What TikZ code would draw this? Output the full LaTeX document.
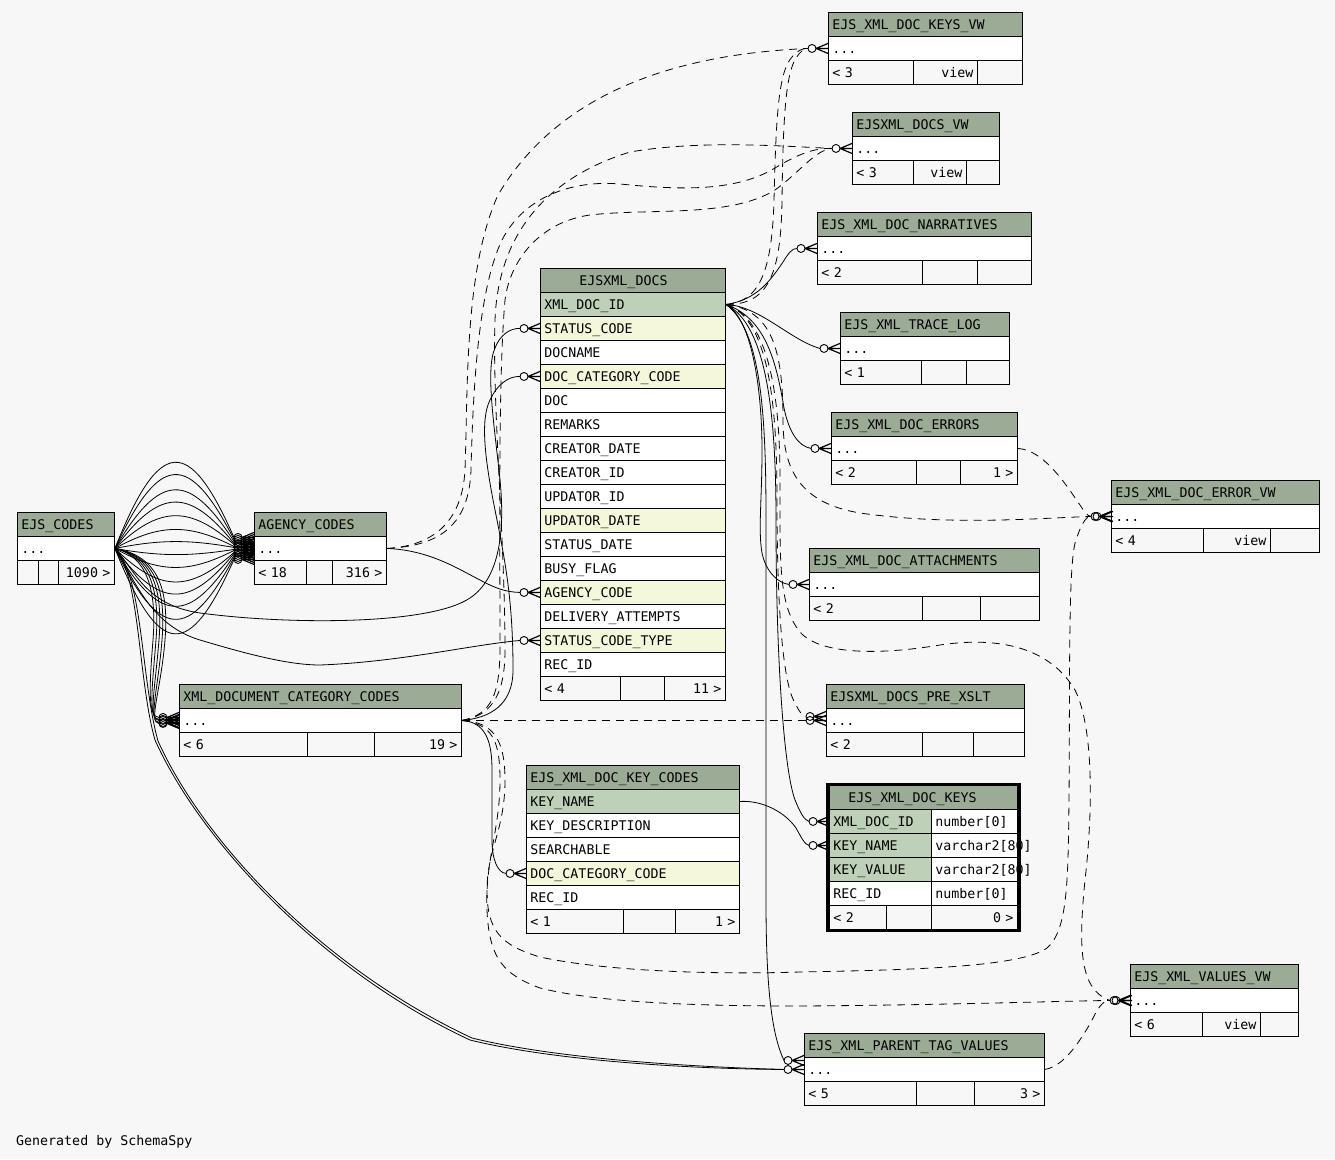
\documentclass[tikz,border=0pt]{standalone}
\usepackage{fontspec}
\newfontfamily\schemafont{DejaVu Sans Mono}
\usepackage{xcolor}
\definecolor{ssbg}{RGB}{247,247,247}
\definecolor{sshead}{RGB}{155,171,150}
\definecolor{sspk}{RGB}{190,209,184}
\definecolor{ssfk}{RGB}{244,247,218}
\usepackage{tikz}
\usetikzlibrary{calc}

\begin{document}
\begin{tikzpicture}[x=1pt, y=-1pt,
  cw/.code={\pgfmathsetlengthmacro\cwtw{#1-8pt}\tikzset{minimum width=#1, text width/.expanded=\cwtw}},
  cell/.style={draw=black, line width=0.9pt, anchor=north west, minimum height=24pt, inner xsep=4pt, inner ysep=0pt, text height=11pt, text depth=1.3pt, align=left, font=\schemafont\fontsize{13.3pt}{16pt}\selectfont},
  headcell/.style={cell, fill=sshead},
  pkcell/.style={cell, fill=sspk},
  fkcell/.style={cell, fill=ssfk},
  rowcell/.style={cell, fill=white},
  footcell/.style={cell, fill=ssbg},
  link/.style={line width=0.8pt},
  implied/.style={link, dash pattern=on 8pt off 6pt},
  fkend/.pic={\draw[line width=1.2pt] (-12,0) -- (0,-5) (-12,0) -- (0,0) (-12,0) -- (0,5); \draw[line width=0.9pt] (-16,0) circle (4pt);}
]
  % background
  \fill[ssbg] (0,0) rectangle (1335,1159);

  % --- collapsed tables on the right ---
  \node[headcell, cw=194pt] (kvw-h) at (828,12) {EJS\_XML\_DOC\_KEYS\_VW};
  \node[rowcell, cw=194pt] (kvw-d) at (828,36) {...};
  \node[footcell, cw=85pt] (kvw-f1) at (828,60) {< 3};
  \node[footcell, cw=64pt, align=right] (kvw-f2) at (913,60) {view};
  \node[footcell, cw=45pt] (kvw-f3) at (977,60) {};

  \node[headcell, cw=147pt] (dvw-h) at (852,112) {EJSXML\_DOCS\_VW};
  \node[rowcell, cw=147pt] (dvw-d) at (852,136) {...};
  \node[footcell, cw=61pt] (dvw-f1) at (852,160) {< 3};
  \node[footcell, cw=53pt, align=right] (dvw-f2) at (913,160) {view};
  \node[footcell, cw=33pt] (dvw-f3) at (966,160) {};

  \node[headcell, cw=214pt] (narr-h) at (817,212) {EJS\_XML\_DOC\_NARRATIVES};
  \node[rowcell, cw=214pt] (narr-d) at (817,236) {...};
  \node[footcell, cw=105pt] (narr-f1) at (817,260) {< 2};
  \node[footcell, cw=55pt] (narr-f2) at (922,260) {};
  \node[footcell, cw=54pt] (narr-f3) at (977,260) {};

  \node[headcell, cw=169pt] (trace-h) at (840,312) {EJS\_XML\_TRACE\_LOG};
  \node[rowcell, cw=169pt] (trace-d) at (840,336) {...};
  \node[footcell, cw=81pt] (trace-f1) at (840,360) {< 1};
  \node[footcell, cw=45pt] (trace-f2) at (921,360) {};
  \node[footcell, cw=43pt] (trace-f3) at (966,360) {};

  \node[headcell, cw=186pt] (err-h) at (831,412) {EJS\_XML\_DOC\_ERRORS};
  \node[rowcell, cw=186pt] (err-d) at (831,436) {...};
  \node[footcell, cw=85pt] (err-f1) at (831,460) {< 2};
  \node[footcell, cw=44pt] (err-f2) at (916,460) {};
  \node[footcell, cw=57pt, align=right] (err-f3) at (960,460) {1 >};

  \node[headcell, cw=208pt] (evw-h) at (1111,480) {EJS\_XML\_DOC\_ERROR\_VW};
  \node[rowcell, cw=208pt] (evw-d) at (1111,504) {...};
  \node[footcell, cw=92pt] (evw-f1) at (1111,528) {< 4};
  \node[footcell, cw=67pt, align=right] (evw-f2) at (1203,528) {view};
  \node[footcell, cw=49pt] (evw-f3) at (1270,528) {};

  \node[headcell, cw=230pt] (att-h) at (809,548) {EJS\_XML\_DOC\_ATTACHMENTS};
  \node[rowcell, cw=230pt] (att-d) at (809,572) {...};
  \node[footcell, cw=113pt] (att-f1) at (809,596) {< 2};
  \node[footcell, cw=58pt] (att-f2) at (922,596) {};
  \node[footcell, cw=59pt] (att-f3) at (980,596) {};

  \node[headcell, cw=198pt] (pre-h) at (826,684) {EJSXML\_DOCS\_PRE\_XSLT};
  \node[rowcell, cw=198pt] (pre-d) at (826,708) {...};
  \node[footcell, cw=96pt] (pre-f1) at (826,732) {< 2};
  \node[footcell, cw=51pt] (pre-f2) at (922,732) {};
  \node[footcell, cw=51pt] (pre-f3) at (973,732) {};

  \node[headcell, cw=168pt] (vvw-h) at (1130,964) {EJS\_XML\_VALUES\_VW};
  \node[rowcell, cw=168pt] (vvw-d) at (1130,988) {...};
  \node[footcell, cw=72pt] (vvw-f1) at (1130,1012) {< 6};
  \node[footcell, cw=58pt, align=right] (vvw-f2) at (1202,1012) {view};
  \node[footcell, cw=38pt] (vvw-f3) at (1260,1012) {};

  \node[headcell, cw=240pt] (ptv-h) at (804,1033) {EJS\_XML\_PARENT\_TAG\_VALUES};
  \node[rowcell, cw=240pt] (ptv-d) at (804,1057) {...};
  \node[footcell, cw=112pt] (ptv-f1) at (804,1081) {< 5};
  \node[footcell, cw=58pt] (ptv-f2) at (916,1081) {};
  \node[footcell, cw=70pt, align=right] (ptv-f3) at (974,1081) {3 >};

  % --- code tables on the left ---
  \node[headcell, cw=97pt] (codes-h) at (17,512) {EJS\_CODES};
  \node[rowcell, cw=97pt] (codes-d) at (17,536) {...};
  \node[footcell, cw=21pt] (codes-f1) at (17,560) {};
  \node[footcell, cw=20pt] (codes-f2) at (38,560) {};
  \node[footcell, cw=56pt, align=right] (codes-f3) at (58,560) {1090 >};

  \node[headcell, cw=132pt] (agency-h) at (254,512) {AGENCY\_CODES};
  \node[rowcell, cw=132pt] (agency-d) at (254,536) {...};
  \node[footcell, cw=52pt] (agency-f1) at (254,560) {< 18};
  \node[footcell, cw=26pt] (agency-f2) at (306,560) {};
  \node[footcell, cw=54pt, align=right] (agency-f3) at (332,560) {316 >};

  \node[headcell, cw=282pt] (cat-h) at (179,684) {XML\_DOCUMENT\_CATEGORY\_CODES};
  \node[rowcell, cw=282pt] (cat-d) at (179,708) {...};
  \node[footcell, cw=128pt] (cat-f1) at (179,732) {< 6};
  \node[footcell, cw=67pt] (cat-f2) at (307,732) {};
  \node[footcell, cw=87pt, align=right] (cat-f3) at (374,732) {19 >};

  % --- EJSXML_DOCS ---
  \node[headcell, cw=185pt] (docs-h) at (540,268) {\hspace*{35pt}EJSXML\_DOCS};
  \foreach \i/\sty/\txt in {0/pkcell/XML\_DOC\_ID, 1/fkcell/STATUS\_CODE, 2/rowcell/DOCNAME,
      3/fkcell/DOC\_CATEGORY\_CODE, 4/rowcell/DOC, 5/rowcell/REMARKS, 6/rowcell/CREATOR\_DATE,
      7/rowcell/CREATOR\_ID, 8/rowcell/UPDATOR\_ID, 9/fkcell/UPDATOR\_DATE, 10/rowcell/STATUS\_DATE,
      11/rowcell/BUSY\_FLAG, 12/fkcell/AGENCY\_CODE, 13/rowcell/DELIVERY\_ATTEMPTS,
      14/fkcell/STATUS\_CODE\_TYPE, 15/rowcell/REC\_ID}{
    \node[\sty, cw=185pt] (docs-\i) at (540,292+24*\i) {\txt};
  }
  \node[footcell, cw=80pt] (docs-f1) at (540,676) {< 4};
  \node[footcell, cw=44pt] (docs-f2) at (620,676) {};
  \node[footcell, cw=61pt, align=right] (docs-f3) at (664,676) {11 >};

  % --- EJS_XML_DOC_KEY_CODES ---
  \node[headcell, cw=213pt] (kc-h) at (526,765) {EJS\_XML\_DOC\_KEY\_CODES};
  \foreach \i/\sty/\txt in {0/pkcell/KEY\_NAME, 1/rowcell/KEY\_DESCRIPTION, 2/rowcell/SEARCHABLE,
      3/fkcell/DOC\_CATEGORY\_CODE, 4/rowcell/REC\_ID}{
    \node[\sty, cw=213pt] (kc-\i) at (526,789+24*\i) {\txt};
  }
  \node[footcell, cw=97pt] (kc-f1) at (526,909) {< 1};
  \node[footcell, cw=52pt] (kc-f2) at (623,909) {};
  \node[footcell, cw=64pt, align=right] (kc-f3) at (675,909) {1 >};

  % --- EJS_XML_DOC_KEYS (selected) ---
  \node[headcell, cw=188pt] (keys-h) at (829,785) {\hspace*{15pt}EJS\_XML\_DOC\_KEYS};
  \foreach \i/\sty/\txt/\typ in {0/pkcell/XML\_DOC\_ID/number[0], 1/pkcell/KEY\_NAME/varchar2[80],
      2/pkcell/KEY\_VALUE/varchar2[80], 3/rowcell/REC\_ID/number[0]}{
    \node[\sty, cw=102pt] (keys-\i) at (829,809+24*\i) {\txt};
    \node[rowcell, cw=86pt] (keys-t\i) at (931,809+24*\i) {\mbox{\typ}};
  }
  \node[footcell, cw=57pt] (keys-f1) at (829,905) {< 2};
  \node[footcell, cw=45pt] (keys-f2) at (886,905) {};
  \node[footcell, cw=86pt, align=right] (keys-f3) at (931,905) {0 >};
  \draw[line width=3.5pt] (827.5,784.5) rectangle (1019.5,930.5);

  % connector ends
  \coordinate (kvw-in) at ($(kvw-d.west)+(-20,0)$);
  \coordinate (dvw-in) at ($(dvw-d.west)+(-20,0)$);
  \coordinate (narr-in) at ($(narr-d.west)+(-20,0)$);
  \coordinate (trace-in) at ($(trace-d.west)+(-20,0)$);
  \coordinate (err-in) at ($(err-d.west)+(-20,0)$);
  \coordinate (evw-in) at ($(evw-d.west)+(-20,0)$);
  \coordinate (att-in) at ($(att-d.west)+(-20,0)$);
  \coordinate (pre-in) at ($(pre-d.west)+(-20,0)$);
  \coordinate (pre-in2) at ($(pre-d.west)+(-20,-4)$);
  \coordinate (vvw-in) at ($(vvw-d.west)+(-20,0)$);
  \coordinate (ptv-in) at ($(ptv-d.west)+(-20,0)$);
  \coordinate (ptv-in2) at ($(ptv-d.west)+(-20,-9)$);
  \coordinate (docs1-in) at ($(docs-1.west)+(-20,0)$);
  \coordinate (docs3-in) at ($(docs-3.west)+(-20,0)$);
  \coordinate (docs12-in) at ($(docs-12.west)+(-20,0)$);
  \coordinate (docs14-in) at ($(docs-14.west)+(-20,0)$);
  \coordinate (kc3-in) at ($(kc-3.west)+(-20,0)$);
  \coordinate (keys0-in) at ($(keys-0.west)+(-20,0)$);
  \coordinate (keys1-in) at ($(keys-1.west)+(-20,0)$);

  % EJS_CODES -> AGENCY_CODES
  \foreach \d/\e in {-113/-11,-97/-9,-77/-7,-61/-5,-43/-4,-25/-2,-9/-1,8/1,25/2,44/4,60/5,76/7,93/9,112/11}{
    \draw[link] (codes-d.east) .. controls ($(codes-d.east)+(45,\d)$) and ($(agency-d.west)+(-65,\d)$) .. ($(agency-d.west)+(-20,\e)$);
    \pic at ($(agency-d.west)+(0,\e)$) {fkend};
  }
  % EJS_CODES -> XML_DOCUMENT_CATEGORY_CODES
  \foreach \a/\e in {0/-3,3/-1,6/0,9/2,12/3}{
    \draw[link] (codes-d.east) .. controls (147+\a,556) and (157+\a,590) .. (153+\a,640) .. controls (149+\a,690) and (148,720+\e) .. ($(cat-d.west)+(-20,\e)$);
    \pic at ($(cat-d.west)+(0,\e)$) {fkend};
  }
  % EJS_CODES -> EJS_XML_PARENT_TAG_VALUES
  \draw[link] (codes-d.east) .. controls (140,575) and (138,680) .. (155,740) .. controls (200,840) and (320,970) .. (470,1040) .. controls (560,1062) and (700,1069) .. (ptv-in);
  \draw[link] (codes-d.east) .. controls (143,575) and (141,680) .. (158,741) .. controls (203,841) and (322,968) .. (472,1038) .. controls (562,1060) and (700,1067) .. (ptv-in);
  % EJS_CODES -> EJSXML_DOCS
  \draw[link] (codes-d.east) .. controls (135,570) and (145,605) .. (200,613) .. controls (290,625) and (430,625) .. (470,598) .. controls (500,578) and (505,530) .. (500,480) .. controls (495,430) and (485,370) .. (495,348) .. controls (500,335) and (510,328) .. (docs1-in);
  \draw[link] (codes-d.east) .. controls (135,580) and (150,625) .. (200,640) .. controls (250,655) and (290,665) .. (320,665) .. controls (400,662) and (470,645) .. (docs14-in);
  % AGENCY_CODES -> EJSXML_DOCS
  \draw[link] (agency-d.east) .. controls (430,550) and (460,570) .. (480,580) .. controls (495,588) and (505,592) .. (docs12-in);
  % XML_DOCUMENT_CATEGORY_CODES -> EJSXML_DOCS, EJS_XML_DOC_KEY_CODES
  \draw[link] (cat-d.east) .. controls (490,718) and (513,705) .. (513,670) .. controls (513,600) and (505,560) .. (495,510) .. controls (485,460) and (480,420) .. (490,400) .. controls (497,385) and (508,376) .. (docs3-in);
  \draw[link] (cat-d.east) .. controls (485,722) and (492,740) .. (492,770) -- (492,840) .. controls (492,860) and (498,873) .. (kc3-in);
  % EJS_XML_DOC_KEY_CODES -> EJS_XML_DOC_KEYS
  \draw[link] (kc-0.east) .. controls (762,800) and (785,812) .. (796,828) .. controls (801,837) and (805,845) .. (keys1-in);
  % EJSXML_DOCS -> children
  \draw[link] (docs-0.east) .. controls (758,300) and (772,278) .. (783,262) .. controls (788,254) and (792,248) .. (narr-in);
  \draw[link] (docs-0.east) .. controls (760,306) and (790,340) .. (trace-in);
  \draw[link] (docs-0.east) .. controls (765,318) and (776,360) .. (784,408) .. controls (789,432) and (798,446) .. (err-in);
  \draw[link] (docs-0.east) .. controls (752,318) and (762,390) .. (762,450) .. controls (762,500) and (758,530) .. (762,553) .. controls (766,572) and (778,583) .. (att-in);
  \draw[link] (docs-0.east) .. controls (768,325) and (776,420) .. (776,520) .. controls (776,660) and (784,770) .. (795,800) .. controls (800,812) and (804,820) .. (keys0-in);
  \draw[link] (docs-0.east) .. controls (762,330) and (766,420) .. (766,520) -- (766,900) .. controls (766,990) and (772,1035) .. (ptv-in2);

  % implied relationships
  \draw[implied] (agency-d.east) .. controls (430,546) and (462,525) .. (465,470) .. controls (468,390) and (464,270) .. (498,195) .. controls (560,90) and (680,54) .. (kvw-in);
  \draw[implied] (agency-d.east) .. controls (440,546) and (469,525) .. (471,470) .. controls (473,390) and (478,290) .. (502,240) .. controls (525,195) and (575,180) .. (620,184) .. controls (680,190) and (735,192) .. (775,168) .. controls (800,153) and (815,148) .. (dvw-in);
  \draw[implied] (cat-d.east) .. controls (488,716) and (505,700) .. (505,650) .. controls (505,540) and (492,400) .. (495,320) .. controls (498,240) and (540,180) .. (630,152) .. controls (700,140) and (780,146) .. (dvw-in);
  \draw[implied] (cat-d.east) .. controls (492,714) and (500,695) .. (500,645) .. controls (500,540) and (498,380) .. (505,300) .. controls (510,260) and (540,222) .. (590,215) .. controls (650,208) and (730,218) .. (775,190) .. controls (800,172) and (815,150) .. (dvw-in);
  \draw[implied] (docs-0.east) .. controls (760,302) and (772,270) .. (774,200) .. controls (776,120) and (778,72) .. (792,57) .. controls (797,51) and (802,48) .. (kvw-in);
  \draw[implied] (docs-0.east) .. controls (768,305) and (781,275) .. (782,200) .. controls (783,125) and (785,75) .. (796,58) .. controls (800,52) and (804,48) .. (kvw-in);
  \draw[implied] (docs-0.east) .. controls (772,310) and (783,350) .. (783,420) .. controls (783,470) and (800,503) .. (860,513) .. controls (950,526) and (1040,518) .. (evw-in);
  \draw[implied] (err-d.east) .. controls (1045,450) and (1068,488) .. (1080,505) .. controls (1084,511) and (1087,516) .. (evw-in);
  \draw[implied] (docs-0.east) .. controls (768,318) and (777,400) .. (777,500) .. controls (777,600) and (782,682) .. (795,703) .. controls (799,711) and (802,716) .. (pre-in2);
  \draw[implied] (cat-d.east) -- (pre-in);
  \draw[implied] (cat-d.east) .. controls (492,724) and (500,740) .. (500,780) .. controls (500,830) and (485,860) .. (487,910) .. controls (489,960) and (505,975) .. (540,988) .. controls (600,1003) and (700,1006) .. (800,1006) .. controls (950,1005) and (1060,1001) .. (vvw-in);
  \draw[implied] (cat-d.east) .. controls (490,722) and (505,735) .. (505,780) .. controls (505,830) and (487,850) .. (487,890) .. controls (487,930) and (500,945) .. (540,957) .. controls (600,970) and (700,975) .. (800,972) .. controls (900,970) and (1020,968) .. (1047,948) .. controls (1068,930) and (1068,880) .. (1069,800) .. controls (1070,680) and (1068,560) .. (1076,540) .. controls (1080,528) and (1085,516) .. (evw-in);
  \draw[implied] (docs-0.east) .. controls (770,318) and (780,400) .. (780,480) .. controls (780,560) and (778,605) .. (800,632) .. controls (820,655) and (880,655) .. (940,645) .. controls (1000,636) and (1050,648) .. (1075,690) .. controls (1095,730) and (1092,820) .. (1085,880) .. controls (1078,950) and (1080,990) .. (vvw-in);
  \draw[implied] (ptv-d.east) .. controls (1065,1066) and (1080,1040) .. (1090,1024) .. controls (1097,1010) and (1102,1000) .. (vvw-in);

  % crow's feet
  \pic at (docs-1.west) {fkend};
  \pic at (docs-3.west) {fkend};
  \pic at (docs-12.west) {fkend};
  \pic at (docs-14.west) {fkend};
  \pic at (kc-3.west) {fkend};
  \pic at (keys-0.west) {fkend};
  \pic at (keys-1.west) {fkend};
  \pic at (narr-d.west) {fkend};
  \pic at (trace-d.west) {fkend};
  \pic at (err-d.west) {fkend};
  \pic at (att-d.west) {fkend};
  \pic at (pre-d.west) {fkend};
  \pic at ($(pre-d.west)+(0,-4)$) {fkend};
  \pic at (kvw-d.west) {fkend};
  \pic at (dvw-d.west) {fkend};
  \pic at (evw-d.west) {fkend};
  \pic at ($(evw-d.west)+(2,0)$) {fkend};
  \pic at (vvw-d.west) {fkend};
  \pic at ($(vvw-d.west)+(2,0)$) {fkend};
  \pic at (ptv-d.west) {fkend};
  \pic at ($(ptv-d.west)+(0,-9)$) {fkend};

  \node[font=\schemafont\fontsize{13.3pt}{16pt}\selectfont, anchor=base west, inner sep=0pt] (credit) at (16,1145) {Generated by SchemaSpy};
\end{tikzpicture}
\end{document}
